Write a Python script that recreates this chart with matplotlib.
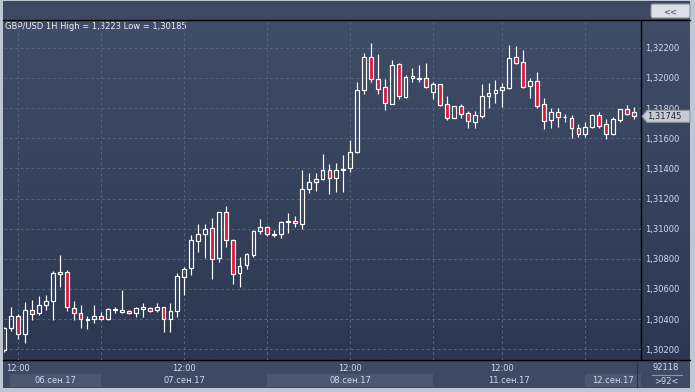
import numpy as np
import matplotlib.pyplot as plt
from matplotlib.patches import Rectangle, Polygon, FancyBboxPatch
from matplotlib.transforms import blended_transform_factory

W, H = 695, 392
fs = 6

# hourly GBP/USD candles
opens = [1.30195, 1.30339, 1.30419, 1.30300, 1.30459, 1.30439, 1.30492, 1.30522, 1.30701, 1.30711,
         1.30476, 1.30439, 1.30392, 1.30399, 1.30423, 1.30399, 1.30459, 1.30449, 1.30454, 1.30439,
         1.30469, 1.30472, 1.30459, 1.30479, 1.30399, 1.30456, 1.30682, 1.30737, 1.30920, 1.30963,
         1.31003, 1.30804, 1.31109, 1.30923, 1.30704, 1.30757, 1.30825, 1.30983, 1.31013, 1.30958,
         1.30963, 1.31046, 1.31051, 1.31029, 1.31261, 1.31312, 1.31328, 1.31387, 1.31338, 1.31387,
         1.31401, 1.31511, 1.31920, 1.32137, 1.31991, 1.31938, 1.31829, 1.32090, 1.31875, 1.32011,
         1.32000, 1.31998, 1.31905, 1.31958, 1.31829, 1.31736, 1.31812, 1.31765, 1.31710, 1.31750,
         1.31878, 1.31902, 1.31920, 1.31935, 1.32137, 1.32104, 1.31948, 1.31978, 1.31825, 1.31719,
         1.31776, 1.31739, 1.31732, 1.31666, 1.31630, 1.31673, 1.31754, 1.31692, 1.31630, 1.31721,
         1.31792, 1.31772]
highs = [1.30345, 1.30479, 1.30434, 1.30514, 1.30525, 1.30554, 1.30558, 1.30719, 1.30825, 1.30726,
         1.30518, 1.30492, 1.30421, 1.30492, 1.30447, 1.30472, 1.30483, 1.30593, 1.30459, 1.30483,
         1.30507, 1.30483, 1.30509, 1.30483, 1.30505, 1.30704, 1.30748, 1.30958, 1.31031, 1.31031,
         1.31069, 1.31112, 1.31151, 1.30932, 1.30814, 1.30837, 1.30991, 1.31064, 1.31018, 1.30991,
         1.31053, 1.31106, 1.31084, 1.31389, 1.31367, 1.31367, 1.31495, 1.31427, 1.31438, 1.31489,
         1.31588, 1.31971, 1.32163, 1.32230, 1.32157, 1.31993, 1.32119, 1.32097, 1.32019, 1.32066,
         1.32086, 1.32099, 1.31975, 1.31960, 1.31880, 1.31814, 1.31825, 1.31781, 1.31781, 1.31958,
         1.31968, 1.31986, 1.31964, 1.32218, 1.32212, 1.32185, 1.32002, 1.32041, 1.31869, 1.31799,
         1.31799, 1.31761, 1.31754, 1.31692, 1.31706, 1.31759, 1.31772, 1.31728, 1.31743, 1.31794,
         1.31820, 1.31809]
lows = [1.30185, 1.30323, 1.30266, 1.30240, 1.30396, 1.30429, 1.30459, 1.30396, 1.30615, 1.30456,
        1.30396, 1.30343, 1.30335, 1.30376, 1.30396, 1.30396, 1.30439, 1.30441, 1.30434, 1.30416,
        1.30416, 1.30449, 1.30447, 1.30317, 1.30317, 1.30416, 1.30560, 1.30693, 1.30847, 1.30808,
        1.30668, 1.30781, 1.30881, 1.30633, 1.30615, 1.30735, 1.30814, 1.30965, 1.30952, 1.30943,
        1.30940, 1.30973, 1.31009, 1.30998, 1.31235, 1.31252, 1.31323, 1.31228, 1.31245, 1.31243,
        1.31378, 1.31504, 1.31891, 1.31975, 1.31895, 1.31789, 1.31825, 1.31858, 1.31869, 1.31971,
        1.31975, 1.31935, 1.31860, 1.31816, 1.31723, 1.31732, 1.31736, 1.31670, 1.31670, 1.31732,
        1.31799, 1.31836, 1.31809, 1.31927, 1.32092, 1.31931, 1.31865, 1.31803, 1.31661, 1.31666,
        1.31677, 1.31706, 1.31604, 1.31606, 1.31610, 1.31670, 1.31670, 1.31597, 1.31621, 1.31710,
        1.31754, 1.31728]
closes = [1.30340, 1.30419, 1.30300, 1.30459, 1.30432, 1.30492, 1.30518, 1.30704, 1.30711, 1.30481,
          1.30441, 1.30399, 1.30399, 1.30419, 1.30399, 1.30467, 1.30467, 1.30459, 1.30443, 1.30474,
          1.30479, 1.30454, 1.30479, 1.30399, 1.30454, 1.30688, 1.30733, 1.30923, 1.30963, 1.30996,
          1.30797, 1.31109, 1.30923, 1.30697, 1.30755, 1.30830, 1.30983, 1.31013, 1.30963, 1.30965,
          1.31042, 1.31051, 1.31036, 1.31261, 1.31312, 1.31328, 1.31387, 1.31334, 1.31387, 1.31394,
          1.31511, 1.31918, 1.32137, 1.31991, 1.31925, 1.31832, 1.32084, 1.31878, 1.32004, 1.31998,
          1.31995, 1.31938, 1.31958, 1.31822, 1.31732, 1.31812, 1.31763, 1.31712, 1.31752, 1.31878,
          1.31898, 1.31920, 1.31938, 1.32130, 1.32097, 1.31942, 1.31978, 1.31816, 1.31714, 1.31776,
          1.31739, 1.31743, 1.31666, 1.31630, 1.31673, 1.31754, 1.31683, 1.31630, 1.31726, 1.31794,
          1.31763, 1.31745]

price_ticks = [1.302, 1.304, 1.306, 1.308, 1.310, 1.312, 1.314, 1.316, 1.318, 1.320, 1.322]
grid_idx = [2, 14, 26, 38, 50, 62, 72, 84]
time_idx = [2, 26, 50, 72]
time_labels = ['12:00', '12:00', '12:00', '12:00']
day_labels = ['06.сен.17', '07.сен.17', '08.сен.17', '11.сен.17', '12.сен.17']
day_edges = [0.8, 14, 38, 62, 84, 92.05]

title = 'GBP/USD 1H High = 1,3223 Low = 1,30185'

UP_FILL = 'none'
DOWN_FILL = '#DE1A3E'
TXT = '#CFDCF0'


def main():
    fig = plt.figure(figsize=(W / 100, H / 100), dpi=100)

    # pixel-space background layer (frame, panels)
    bg = fig.add_axes([0, 0, 1, 1])
    bg.axis('off')
    bg.add_patch(Rectangle((0, 0), W, H, fc='#BDC6D3', ec='none', zorder=0))
    bg.add_patch(Rectangle((3, 1), 687, 19, fc='#3D4962', ec='none', zorder=0.5))
    bg.add_patch(Rectangle((3, 360), 687, 28, fc='#3E4A62', ec='none', zorder=0.5))
    grad = np.linspace(0, 1, 200)[:, None]
    top = np.array([0x40, 0x4D, 0x68]) / 255
    bot = np.array([0x2C, 0x38, 0x52]) / 255
    img = top[None, None, :] * (1 - grad[..., None]) + bot[None, None, :] * grad[..., None]
    bg.imshow(img, extent=(3, 690, 360, 20), aspect='auto', interpolation='bilinear', zorder=1)
    bg.set_xlim(0, W)
    bg.set_ylim(H, 0)
    bg.plot([3, 690], [20, 20], color='black', lw=1, zorder=3)
    bg.plot([3, 690], [360, 360], color='black', lw=1, zorder=3)
    bg.plot([641, 641], [20, 360], color='black', lw=1, zorder=3)
    bg.plot([637, 637], [362, 387], color='#2A3448', lw=0.8, zorder=3)

    # "<<" button
    bg.add_patch(FancyBboxPatch((651, 4), 39, 14, boxstyle='round,pad=0,rounding_size=2',
                                fc='#DDE1E7', ec='#8A93A3', lw=0.8, zorder=3))
    bg.text(670.5, 11.5, '<<', color='#3A4458', fontsize=fs, ha='center', va='center', zorder=4)
    bg.text(5, 26.5, title, color='#EEF1F5', fontsize=fs, ha='left', va='center', zorder=4)

    # bar counter, bottom right
    bg.text(666, 368, '92118', color=TXT, fontsize=fs, ha='center', va='center', zorder=4)
    bg.plot([652, 682], [374.5, 374.5], color='#8A96AA', lw=0.8, zorder=3)
    bg.text(666, 381, '>92<', color=TXT, fontsize=fs, ha='center', va='center', zorder=4)

    # price chart
    ax = fig.add_axes([4 / W, (H - 360) / H, 637 / W, 340 / H])
    ax.set_facecolor('none')
    for s in ax.spines.values():
        s.set_visible(False)
    ax.set_xlim(-0.07, 92.05)
    ax.set_ylim(1.30129, 1.32384)
    ax.set_xticks(grid_idx)
    ax.set_yticks(price_ticks)
    ax.set_yticklabels([f'{p:.5f}'.replace('.', ',') for p in price_ticks])
    ax.yaxis.tick_right()
    ax.tick_params(axis='x', length=0, labelbottom=False)
    ax.tick_params(axis='y', length=0, pad=3, labelsize=fs, labelcolor=TXT)
    ax.set_axisbelow(True)
    ax.grid(True, color='#56637D', lw=0.75, linestyle=(0, (2.6, 2.6)))

    idx = np.arange(len(opens))
    o = np.array(opens)
    c = np.array(closes)
    body_top = np.maximum(o, c)
    body_bot = np.minimum(o, c)
    ax.vlines(idx, body_top, highs, colors='white', lw=0.85, zorder=2)
    ax.vlines(idx, lows, body_bot, colors='white', lw=0.85, zorder=2)
    bw = 0.55
    for i in idx:
        fill = DOWN_FILL if c[i] < o[i] else UP_FILL
        ax.add_patch(Rectangle((i - bw / 2, body_bot[i]), bw, body_top[i] - body_bot[i],
                               fc=fill, ec='white', lw=0.85, zorder=3))

    # current price tag (covers the nearby axis label, as in the terminal)
    ylo, yhi = ax.get_ylim()
    dy = 6 * (yhi - ylo) / 340
    tr = blended_transform_factory(bg.transData, ax.transData)
    last = closes[-1]
    tag = Polygon([(642, last), (647, last + dy), (690, last + dy), (690, last - dy), (647, last - dy)],
                  closed=True, fc='#C6CAD1', ec='#8C939E', lw=0.8, transform=tr, clip_on=False, zorder=5)
    ax.add_patch(tag)
    ax.text(647, last, f'{last:.5f}'.replace('.', ','), transform=tr, color='#1E2430',
            fontsize=fs, ha='left', va='center', zorder=6, clip_on=False)

    # time axis: day shading, hours, dates
    trx = blended_transform_factory(ax.transData, bg.transData)
    for k, lab in enumerate(day_labels):
        x0, x1 = day_edges[k], day_edges[k + 1]
        if k % 2 == 0:
            bg.add_patch(Rectangle((x0, 374), x1 - x0, 13, fc='#4A576F', ec='none',
                                   transform=trx, zorder=2))
        bg.text((x0 + x1) / 2, 380.5, lab, transform=trx, color=TXT, fontsize=fs,
                ha='center', va='center', zorder=4)
    for xi, lab in zip(time_idx, time_labels):
        bg.text(xi, 368.5, lab, transform=trx, color=TXT, fontsize=fs,
                ha='center', va='center', zorder=4)

    fig.savefig('out.png', dpi=100)
    plt.close(fig)


if __name__ == '__main__':
    main()
